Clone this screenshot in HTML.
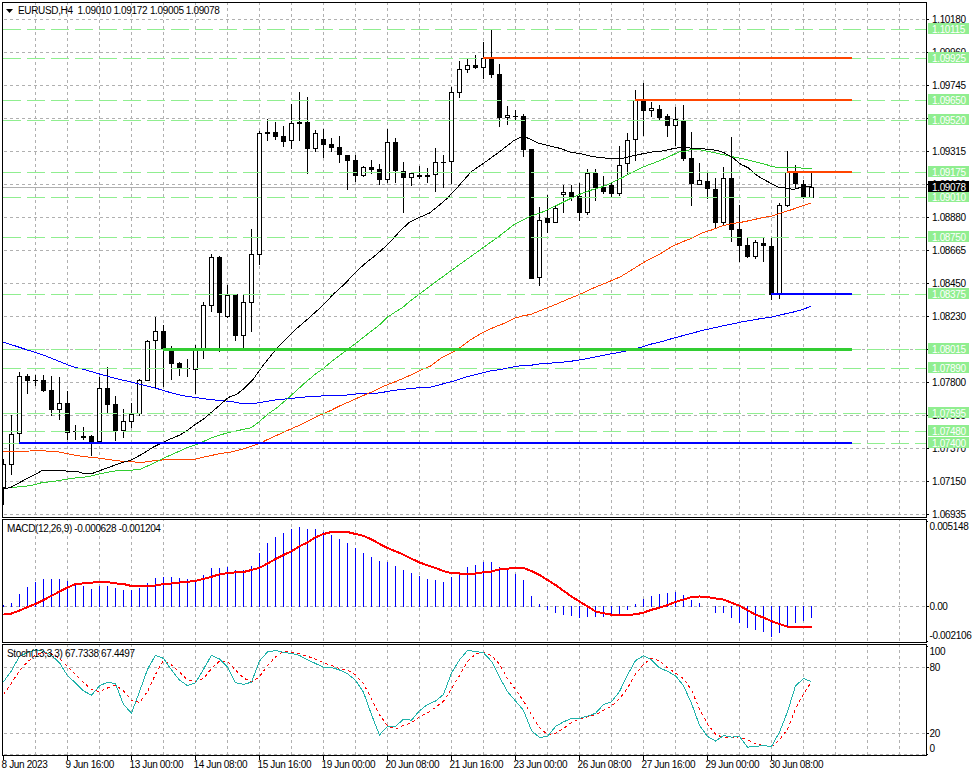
<!DOCTYPE html>
<html><head><meta charset="utf-8"><title>EURUSD,H4</title>
<style>
html,body{margin:0;padding:0;background:#fff;width:972px;height:776px;overflow:hidden}
svg{display:block}
text{font-family:"Liberation Sans", sans-serif}
</style></head>
<body>
<svg width="972" height="776" viewBox="0 0 972 776">
<rect width="972" height="776" fill="#fff"/>
<g shape-rendering="crispEdges">
<line x1="35.5" y1="3" x2="35.5" y2="517" stroke="#B0B0B0" stroke-width="1" stroke-dasharray="3 3" stroke-dashoffset="1"/>
<line x1="67.5" y1="3" x2="67.5" y2="517" stroke="#B0B0B0" stroke-width="1" stroke-dasharray="3 3" stroke-dashoffset="1"/>
<line x1="99.5" y1="3" x2="99.5" y2="517" stroke="#B0B0B0" stroke-width="1" stroke-dasharray="3 3" stroke-dashoffset="1"/>
<line x1="131.5" y1="3" x2="131.5" y2="517" stroke="#B0B0B0" stroke-width="1" stroke-dasharray="3 3" stroke-dashoffset="1"/>
<line x1="163.5" y1="3" x2="163.5" y2="517" stroke="#B0B0B0" stroke-width="1" stroke-dasharray="3 3" stroke-dashoffset="1"/>
<line x1="195.5" y1="3" x2="195.5" y2="517" stroke="#B0B0B0" stroke-width="1" stroke-dasharray="3 3" stroke-dashoffset="1"/>
<line x1="227.5" y1="3" x2="227.5" y2="517" stroke="#B0B0B0" stroke-width="1" stroke-dasharray="3 3" stroke-dashoffset="1"/>
<line x1="259.5" y1="3" x2="259.5" y2="517" stroke="#B0B0B0" stroke-width="1" stroke-dasharray="3 3" stroke-dashoffset="1"/>
<line x1="291.5" y1="3" x2="291.5" y2="517" stroke="#B0B0B0" stroke-width="1" stroke-dasharray="3 3" stroke-dashoffset="1"/>
<line x1="323.5" y1="3" x2="323.5" y2="517" stroke="#B0B0B0" stroke-width="1" stroke-dasharray="3 3" stroke-dashoffset="1"/>
<line x1="355.5" y1="3" x2="355.5" y2="517" stroke="#B0B0B0" stroke-width="1" stroke-dasharray="3 3" stroke-dashoffset="1"/>
<line x1="387.5" y1="3" x2="387.5" y2="517" stroke="#B0B0B0" stroke-width="1" stroke-dasharray="3 3" stroke-dashoffset="1"/>
<line x1="419.5" y1="3" x2="419.5" y2="517" stroke="#B0B0B0" stroke-width="1" stroke-dasharray="3 3" stroke-dashoffset="1"/>
<line x1="451.5" y1="3" x2="451.5" y2="517" stroke="#B0B0B0" stroke-width="1" stroke-dasharray="3 3" stroke-dashoffset="1"/>
<line x1="483.5" y1="3" x2="483.5" y2="517" stroke="#B0B0B0" stroke-width="1" stroke-dasharray="3 3" stroke-dashoffset="1"/>
<line x1="515.5" y1="3" x2="515.5" y2="517" stroke="#B0B0B0" stroke-width="1" stroke-dasharray="3 3" stroke-dashoffset="1"/>
<line x1="547.5" y1="3" x2="547.5" y2="517" stroke="#B0B0B0" stroke-width="1" stroke-dasharray="3 3" stroke-dashoffset="1"/>
<line x1="579.5" y1="3" x2="579.5" y2="517" stroke="#B0B0B0" stroke-width="1" stroke-dasharray="3 3" stroke-dashoffset="1"/>
<line x1="611.5" y1="3" x2="611.5" y2="517" stroke="#B0B0B0" stroke-width="1" stroke-dasharray="3 3" stroke-dashoffset="1"/>
<line x1="643.5" y1="3" x2="643.5" y2="517" stroke="#B0B0B0" stroke-width="1" stroke-dasharray="3 3" stroke-dashoffset="1"/>
<line x1="675.5" y1="3" x2="675.5" y2="517" stroke="#B0B0B0" stroke-width="1" stroke-dasharray="3 3" stroke-dashoffset="1"/>
<line x1="707.5" y1="3" x2="707.5" y2="517" stroke="#B0B0B0" stroke-width="1" stroke-dasharray="3 3" stroke-dashoffset="1"/>
<line x1="739.5" y1="3" x2="739.5" y2="517" stroke="#B0B0B0" stroke-width="1" stroke-dasharray="3 3" stroke-dashoffset="1"/>
<line x1="771.5" y1="3" x2="771.5" y2="517" stroke="#B0B0B0" stroke-width="1" stroke-dasharray="3 3" stroke-dashoffset="1"/>
<line x1="803.5" y1="3" x2="803.5" y2="517" stroke="#B0B0B0" stroke-width="1" stroke-dasharray="3 3" stroke-dashoffset="1"/>
<line x1="835.5" y1="3" x2="835.5" y2="517" stroke="#B0B0B0" stroke-width="1" stroke-dasharray="3 3" stroke-dashoffset="1"/>
<line x1="867.5" y1="3" x2="867.5" y2="517" stroke="#B0B0B0" stroke-width="1" stroke-dasharray="3 3" stroke-dashoffset="1"/>
<line x1="899.5" y1="3" x2="899.5" y2="517" stroke="#B0B0B0" stroke-width="1" stroke-dasharray="3 3" stroke-dashoffset="1"/>
<line x1="35.5" y1="520" x2="35.5" y2="642" stroke="#B0B0B0" stroke-width="1" stroke-dasharray="3 3" stroke-dashoffset="2"/>
<line x1="67.5" y1="520" x2="67.5" y2="642" stroke="#B0B0B0" stroke-width="1" stroke-dasharray="3 3" stroke-dashoffset="2"/>
<line x1="99.5" y1="520" x2="99.5" y2="642" stroke="#B0B0B0" stroke-width="1" stroke-dasharray="3 3" stroke-dashoffset="2"/>
<line x1="131.5" y1="520" x2="131.5" y2="642" stroke="#B0B0B0" stroke-width="1" stroke-dasharray="3 3" stroke-dashoffset="2"/>
<line x1="163.5" y1="520" x2="163.5" y2="642" stroke="#B0B0B0" stroke-width="1" stroke-dasharray="3 3" stroke-dashoffset="2"/>
<line x1="195.5" y1="520" x2="195.5" y2="642" stroke="#B0B0B0" stroke-width="1" stroke-dasharray="3 3" stroke-dashoffset="2"/>
<line x1="227.5" y1="520" x2="227.5" y2="642" stroke="#B0B0B0" stroke-width="1" stroke-dasharray="3 3" stroke-dashoffset="2"/>
<line x1="259.5" y1="520" x2="259.5" y2="642" stroke="#B0B0B0" stroke-width="1" stroke-dasharray="3 3" stroke-dashoffset="2"/>
<line x1="291.5" y1="520" x2="291.5" y2="642" stroke="#B0B0B0" stroke-width="1" stroke-dasharray="3 3" stroke-dashoffset="2"/>
<line x1="323.5" y1="520" x2="323.5" y2="642" stroke="#B0B0B0" stroke-width="1" stroke-dasharray="3 3" stroke-dashoffset="2"/>
<line x1="355.5" y1="520" x2="355.5" y2="642" stroke="#B0B0B0" stroke-width="1" stroke-dasharray="3 3" stroke-dashoffset="2"/>
<line x1="387.5" y1="520" x2="387.5" y2="642" stroke="#B0B0B0" stroke-width="1" stroke-dasharray="3 3" stroke-dashoffset="2"/>
<line x1="419.5" y1="520" x2="419.5" y2="642" stroke="#B0B0B0" stroke-width="1" stroke-dasharray="3 3" stroke-dashoffset="2"/>
<line x1="451.5" y1="520" x2="451.5" y2="642" stroke="#B0B0B0" stroke-width="1" stroke-dasharray="3 3" stroke-dashoffset="2"/>
<line x1="483.5" y1="520" x2="483.5" y2="642" stroke="#B0B0B0" stroke-width="1" stroke-dasharray="3 3" stroke-dashoffset="2"/>
<line x1="515.5" y1="520" x2="515.5" y2="642" stroke="#B0B0B0" stroke-width="1" stroke-dasharray="3 3" stroke-dashoffset="2"/>
<line x1="547.5" y1="520" x2="547.5" y2="642" stroke="#B0B0B0" stroke-width="1" stroke-dasharray="3 3" stroke-dashoffset="2"/>
<line x1="579.5" y1="520" x2="579.5" y2="642" stroke="#B0B0B0" stroke-width="1" stroke-dasharray="3 3" stroke-dashoffset="2"/>
<line x1="611.5" y1="520" x2="611.5" y2="642" stroke="#B0B0B0" stroke-width="1" stroke-dasharray="3 3" stroke-dashoffset="2"/>
<line x1="643.5" y1="520" x2="643.5" y2="642" stroke="#B0B0B0" stroke-width="1" stroke-dasharray="3 3" stroke-dashoffset="2"/>
<line x1="675.5" y1="520" x2="675.5" y2="642" stroke="#B0B0B0" stroke-width="1" stroke-dasharray="3 3" stroke-dashoffset="2"/>
<line x1="707.5" y1="520" x2="707.5" y2="642" stroke="#B0B0B0" stroke-width="1" stroke-dasharray="3 3" stroke-dashoffset="2"/>
<line x1="739.5" y1="520" x2="739.5" y2="642" stroke="#B0B0B0" stroke-width="1" stroke-dasharray="3 3" stroke-dashoffset="2"/>
<line x1="771.5" y1="520" x2="771.5" y2="642" stroke="#B0B0B0" stroke-width="1" stroke-dasharray="3 3" stroke-dashoffset="2"/>
<line x1="803.5" y1="520" x2="803.5" y2="642" stroke="#B0B0B0" stroke-width="1" stroke-dasharray="3 3" stroke-dashoffset="2"/>
<line x1="835.5" y1="520" x2="835.5" y2="642" stroke="#B0B0B0" stroke-width="1" stroke-dasharray="3 3" stroke-dashoffset="2"/>
<line x1="867.5" y1="520" x2="867.5" y2="642" stroke="#B0B0B0" stroke-width="1" stroke-dasharray="3 3" stroke-dashoffset="2"/>
<line x1="899.5" y1="520" x2="899.5" y2="642" stroke="#B0B0B0" stroke-width="1" stroke-dasharray="3 3" stroke-dashoffset="2"/>
<line x1="35.5" y1="645" x2="35.5" y2="755" stroke="#B0B0B0" stroke-width="1" stroke-dasharray="3 3" stroke-dashoffset="1"/>
<line x1="67.5" y1="645" x2="67.5" y2="755" stroke="#B0B0B0" stroke-width="1" stroke-dasharray="3 3" stroke-dashoffset="1"/>
<line x1="99.5" y1="645" x2="99.5" y2="755" stroke="#B0B0B0" stroke-width="1" stroke-dasharray="3 3" stroke-dashoffset="1"/>
<line x1="131.5" y1="645" x2="131.5" y2="755" stroke="#B0B0B0" stroke-width="1" stroke-dasharray="3 3" stroke-dashoffset="1"/>
<line x1="163.5" y1="645" x2="163.5" y2="755" stroke="#B0B0B0" stroke-width="1" stroke-dasharray="3 3" stroke-dashoffset="1"/>
<line x1="195.5" y1="645" x2="195.5" y2="755" stroke="#B0B0B0" stroke-width="1" stroke-dasharray="3 3" stroke-dashoffset="1"/>
<line x1="227.5" y1="645" x2="227.5" y2="755" stroke="#B0B0B0" stroke-width="1" stroke-dasharray="3 3" stroke-dashoffset="1"/>
<line x1="259.5" y1="645" x2="259.5" y2="755" stroke="#B0B0B0" stroke-width="1" stroke-dasharray="3 3" stroke-dashoffset="1"/>
<line x1="291.5" y1="645" x2="291.5" y2="755" stroke="#B0B0B0" stroke-width="1" stroke-dasharray="3 3" stroke-dashoffset="1"/>
<line x1="323.5" y1="645" x2="323.5" y2="755" stroke="#B0B0B0" stroke-width="1" stroke-dasharray="3 3" stroke-dashoffset="1"/>
<line x1="355.5" y1="645" x2="355.5" y2="755" stroke="#B0B0B0" stroke-width="1" stroke-dasharray="3 3" stroke-dashoffset="1"/>
<line x1="387.5" y1="645" x2="387.5" y2="755" stroke="#B0B0B0" stroke-width="1" stroke-dasharray="3 3" stroke-dashoffset="1"/>
<line x1="419.5" y1="645" x2="419.5" y2="755" stroke="#B0B0B0" stroke-width="1" stroke-dasharray="3 3" stroke-dashoffset="1"/>
<line x1="451.5" y1="645" x2="451.5" y2="755" stroke="#B0B0B0" stroke-width="1" stroke-dasharray="3 3" stroke-dashoffset="1"/>
<line x1="483.5" y1="645" x2="483.5" y2="755" stroke="#B0B0B0" stroke-width="1" stroke-dasharray="3 3" stroke-dashoffset="1"/>
<line x1="515.5" y1="645" x2="515.5" y2="755" stroke="#B0B0B0" stroke-width="1" stroke-dasharray="3 3" stroke-dashoffset="1"/>
<line x1="547.5" y1="645" x2="547.5" y2="755" stroke="#B0B0B0" stroke-width="1" stroke-dasharray="3 3" stroke-dashoffset="1"/>
<line x1="579.5" y1="645" x2="579.5" y2="755" stroke="#B0B0B0" stroke-width="1" stroke-dasharray="3 3" stroke-dashoffset="1"/>
<line x1="611.5" y1="645" x2="611.5" y2="755" stroke="#B0B0B0" stroke-width="1" stroke-dasharray="3 3" stroke-dashoffset="1"/>
<line x1="643.5" y1="645" x2="643.5" y2="755" stroke="#B0B0B0" stroke-width="1" stroke-dasharray="3 3" stroke-dashoffset="1"/>
<line x1="675.5" y1="645" x2="675.5" y2="755" stroke="#B0B0B0" stroke-width="1" stroke-dasharray="3 3" stroke-dashoffset="1"/>
<line x1="707.5" y1="645" x2="707.5" y2="755" stroke="#B0B0B0" stroke-width="1" stroke-dasharray="3 3" stroke-dashoffset="1"/>
<line x1="739.5" y1="645" x2="739.5" y2="755" stroke="#B0B0B0" stroke-width="1" stroke-dasharray="3 3" stroke-dashoffset="1"/>
<line x1="771.5" y1="645" x2="771.5" y2="755" stroke="#B0B0B0" stroke-width="1" stroke-dasharray="3 3" stroke-dashoffset="1"/>
<line x1="803.5" y1="645" x2="803.5" y2="755" stroke="#B0B0B0" stroke-width="1" stroke-dasharray="3 3" stroke-dashoffset="1"/>
<line x1="835.5" y1="645" x2="835.5" y2="755" stroke="#B0B0B0" stroke-width="1" stroke-dasharray="3 3" stroke-dashoffset="1"/>
<line x1="867.5" y1="645" x2="867.5" y2="755" stroke="#B0B0B0" stroke-width="1" stroke-dasharray="3 3" stroke-dashoffset="1"/>
<line x1="899.5" y1="645" x2="899.5" y2="755" stroke="#B0B0B0" stroke-width="1" stroke-dasharray="3 3" stroke-dashoffset="1"/>
<line x1="3" y1="19.5" x2="926" y2="19.5" stroke="#B0B0B0" stroke-width="1" stroke-dasharray="3 3" stroke-dashoffset="5"/>
<line x1="3" y1="52.5" x2="926" y2="52.5" stroke="#B0B0B0" stroke-width="1" stroke-dasharray="3 3" stroke-dashoffset="5"/>
<line x1="3" y1="85.5" x2="926" y2="85.5" stroke="#B0B0B0" stroke-width="1" stroke-dasharray="3 3" stroke-dashoffset="5"/>
<line x1="3" y1="118.5" x2="926" y2="118.5" stroke="#B0B0B0" stroke-width="1" stroke-dasharray="3 3" stroke-dashoffset="5"/>
<line x1="3" y1="151.5" x2="926" y2="151.5" stroke="#B0B0B0" stroke-width="1" stroke-dasharray="3 3" stroke-dashoffset="5"/>
<line x1="3" y1="184.5" x2="926" y2="184.5" stroke="#B0B0B0" stroke-width="1" stroke-dasharray="3 3" stroke-dashoffset="5"/>
<line x1="3" y1="217.5" x2="926" y2="217.5" stroke="#B0B0B0" stroke-width="1" stroke-dasharray="3 3" stroke-dashoffset="5"/>
<line x1="3" y1="250.5" x2="926" y2="250.5" stroke="#B0B0B0" stroke-width="1" stroke-dasharray="3 3" stroke-dashoffset="5"/>
<line x1="3" y1="283.5" x2="926" y2="283.5" stroke="#B0B0B0" stroke-width="1" stroke-dasharray="3 3" stroke-dashoffset="5"/>
<line x1="3" y1="316.5" x2="926" y2="316.5" stroke="#B0B0B0" stroke-width="1" stroke-dasharray="3 3" stroke-dashoffset="5"/>
<line x1="3" y1="349.5" x2="926" y2="349.5" stroke="#B0B0B0" stroke-width="1" stroke-dasharray="3 3" stroke-dashoffset="5"/>
<line x1="3" y1="382.5" x2="926" y2="382.5" stroke="#B0B0B0" stroke-width="1" stroke-dasharray="3 3" stroke-dashoffset="5"/>
<line x1="3" y1="415.5" x2="926" y2="415.5" stroke="#B0B0B0" stroke-width="1" stroke-dasharray="3 3" stroke-dashoffset="5"/>
<line x1="3" y1="448.5" x2="926" y2="448.5" stroke="#B0B0B0" stroke-width="1" stroke-dasharray="3 3" stroke-dashoffset="5"/>
<line x1="3" y1="481.5" x2="926" y2="481.5" stroke="#B0B0B0" stroke-width="1" stroke-dasharray="3 3" stroke-dashoffset="5"/>
<line x1="3" y1="514.5" x2="926" y2="514.5" stroke="#B0B0B0" stroke-width="1" stroke-dasharray="3 3" stroke-dashoffset="5"/>
<line x1="3" y1="606.5" x2="926" y2="606.5" stroke="#B0B0B0" stroke-width="1" stroke-dasharray="3 3" stroke-dashoffset="5"/>
<line x1="3" y1="667.5" x2="926" y2="667.5" stroke="#B0B0B0" stroke-width="1" stroke-dasharray="3 3" stroke-dashoffset="5"/>
<line x1="3" y1="733.5" x2="926" y2="733.5" stroke="#B0B0B0" stroke-width="1" stroke-dasharray="3 3" stroke-dashoffset="5"/>
<line x1="3" y1="754.5" x2="926" y2="754.5" stroke="#B0B0B0" stroke-width="1" stroke-dasharray="3 3" stroke-dashoffset="5"/>
<line x1="3" y1="187.5" x2="926" y2="187.5" stroke="#B0B0B0" stroke-width="1"/>
</g>
<g shape-rendering="crispEdges">
<rect x="3" y="459" width="1" height="46" fill="#000"/>
<rect x="1" y="464" width="5" height="24" fill="#000"/>
<rect x="2" y="465" width="3" height="22" fill="#fff"/>
<rect x="11" y="415" width="1" height="60" fill="#000"/>
<rect x="9" y="434" width="5" height="31" fill="#000"/>
<rect x="10" y="435" width="3" height="29" fill="#fff"/>
<rect x="19" y="372" width="1" height="70" fill="#000"/>
<rect x="17" y="376" width="5" height="58" fill="#000"/>
<rect x="18" y="377" width="3" height="56" fill="#fff"/>
<rect x="27" y="374" width="1" height="20" fill="#000"/>
<rect x="25" y="376" width="5" height="5" fill="#000"/>
<rect x="35" y="375" width="1" height="11" fill="#000"/>
<rect x="33" y="380" width="5" height="1" fill="#000"/>
<rect x="43" y="375" width="1" height="17" fill="#000"/>
<rect x="41" y="380" width="5" height="11" fill="#000"/>
<rect x="51" y="376" width="1" height="40" fill="#000"/>
<rect x="49" y="390" width="5" height="20" fill="#000"/>
<rect x="59" y="377" width="1" height="43" fill="#000"/>
<rect x="57" y="403" width="5" height="7" fill="#000"/>
<rect x="58" y="404" width="3" height="5" fill="#fff"/>
<rect x="67" y="391" width="1" height="49" fill="#000"/>
<rect x="65" y="403" width="5" height="30" fill="#000"/>
<rect x="75" y="425" width="1" height="15" fill="#000"/>
<rect x="73" y="431" width="5" height="1" fill="#000"/>
<rect x="83" y="427" width="1" height="13" fill="#000"/>
<rect x="81" y="436" width="5" height="2" fill="#000"/>
<rect x="91" y="435" width="1" height="21" fill="#000"/>
<rect x="89" y="436" width="5" height="6" fill="#000"/>
<rect x="99" y="377" width="1" height="66" fill="#000"/>
<rect x="97" y="388" width="5" height="54" fill="#000"/>
<rect x="98" y="389" width="3" height="52" fill="#fff"/>
<rect x="107" y="367" width="1" height="46" fill="#000"/>
<rect x="105" y="388" width="5" height="17" fill="#000"/>
<rect x="115" y="396" width="1" height="45" fill="#000"/>
<rect x="113" y="404" width="5" height="27" fill="#000"/>
<rect x="123" y="409" width="1" height="29" fill="#000"/>
<rect x="121" y="421" width="5" height="10" fill="#000"/>
<rect x="122" y="422" width="3" height="8" fill="#fff"/>
<rect x="131" y="403" width="1" height="25" fill="#000"/>
<rect x="129" y="414" width="5" height="8" fill="#000"/>
<rect x="130" y="415" width="3" height="6" fill="#fff"/>
<rect x="139" y="379" width="1" height="37" fill="#000"/>
<rect x="137" y="380" width="5" height="34" fill="#000"/>
<rect x="138" y="381" width="3" height="32" fill="#fff"/>
<rect x="147" y="340" width="1" height="41" fill="#000"/>
<rect x="145" y="341" width="5" height="40" fill="#000"/>
<rect x="146" y="342" width="3" height="38" fill="#fff"/>
<rect x="155" y="317" width="1" height="71" fill="#000"/>
<rect x="153" y="331" width="5" height="10" fill="#000"/>
<rect x="154" y="332" width="3" height="8" fill="#fff"/>
<rect x="163" y="325" width="1" height="62" fill="#000"/>
<rect x="161" y="331" width="5" height="18" fill="#000"/>
<rect x="171" y="346" width="1" height="34" fill="#000"/>
<rect x="169" y="351" width="5" height="13" fill="#000"/>
<rect x="179" y="362" width="1" height="14" fill="#000"/>
<rect x="177" y="363" width="5" height="5" fill="#000"/>
<rect x="187" y="359" width="1" height="18" fill="#000"/>
<rect x="185" y="368" width="5" height="1" fill="#000"/>
<rect x="195" y="345" width="1" height="49" fill="#000"/>
<rect x="193" y="349" width="5" height="21" fill="#000"/>
<rect x="194" y="350" width="3" height="19" fill="#fff"/>
<rect x="203" y="302" width="1" height="57" fill="#000"/>
<rect x="201" y="305" width="5" height="44" fill="#000"/>
<rect x="202" y="306" width="3" height="42" fill="#fff"/>
<rect x="211" y="254" width="1" height="58" fill="#000"/>
<rect x="209" y="257" width="5" height="49" fill="#000"/>
<rect x="210" y="258" width="3" height="47" fill="#fff"/>
<rect x="219" y="256" width="1" height="96" fill="#000"/>
<rect x="217" y="257" width="5" height="56" fill="#000"/>
<rect x="227" y="285" width="1" height="33" fill="#000"/>
<rect x="225" y="295" width="5" height="22" fill="#000"/>
<rect x="226" y="296" width="3" height="20" fill="#fff"/>
<rect x="235" y="294" width="1" height="47" fill="#000"/>
<rect x="233" y="294" width="5" height="42" fill="#000"/>
<rect x="243" y="295" width="1" height="53" fill="#000"/>
<rect x="241" y="302" width="5" height="34" fill="#000"/>
<rect x="242" y="303" width="3" height="32" fill="#fff"/>
<rect x="251" y="229" width="1" height="103" fill="#000"/>
<rect x="249" y="254" width="5" height="49" fill="#000"/>
<rect x="250" y="255" width="3" height="47" fill="#fff"/>
<rect x="259" y="131" width="1" height="134" fill="#000"/>
<rect x="257" y="133" width="5" height="122" fill="#000"/>
<rect x="258" y="134" width="3" height="120" fill="#fff"/>
<rect x="267" y="119" width="1" height="22" fill="#000"/>
<rect x="265" y="132" width="5" height="2" fill="#000"/>
<rect x="275" y="122" width="1" height="18" fill="#000"/>
<rect x="273" y="132" width="5" height="5" fill="#000"/>
<rect x="283" y="126" width="1" height="21" fill="#000"/>
<rect x="281" y="136" width="5" height="6" fill="#000"/>
<rect x="291" y="104" width="1" height="45" fill="#000"/>
<rect x="289" y="123" width="5" height="18" fill="#000"/>
<rect x="290" y="124" width="3" height="16" fill="#fff"/>
<rect x="299" y="92" width="1" height="49" fill="#000"/>
<rect x="297" y="122" width="5" height="2" fill="#000"/>
<rect x="307" y="97" width="1" height="77" fill="#000"/>
<rect x="305" y="122" width="5" height="27" fill="#000"/>
<rect x="315" y="130" width="1" height="22" fill="#000"/>
<rect x="313" y="133" width="5" height="16" fill="#000"/>
<rect x="314" y="134" width="3" height="14" fill="#fff"/>
<rect x="323" y="129" width="1" height="29" fill="#000"/>
<rect x="321" y="139" width="5" height="6" fill="#000"/>
<rect x="331" y="138" width="1" height="14" fill="#000"/>
<rect x="329" y="144" width="5" height="4" fill="#000"/>
<rect x="339" y="136" width="1" height="27" fill="#000"/>
<rect x="337" y="147" width="5" height="8" fill="#000"/>
<rect x="347" y="155" width="1" height="35" fill="#000"/>
<rect x="345" y="155" width="5" height="6" fill="#000"/>
<rect x="355" y="155" width="1" height="27" fill="#000"/>
<rect x="353" y="160" width="5" height="16" fill="#000"/>
<rect x="363" y="166" width="1" height="11" fill="#000"/>
<rect x="361" y="167" width="5" height="9" fill="#000"/>
<rect x="362" y="168" width="3" height="7" fill="#fff"/>
<rect x="371" y="160" width="1" height="14" fill="#000"/>
<rect x="369" y="167" width="5" height="3" fill="#000"/>
<rect x="379" y="164" width="1" height="21" fill="#000"/>
<rect x="377" y="169" width="5" height="11" fill="#000"/>
<rect x="387" y="129" width="1" height="54" fill="#000"/>
<rect x="385" y="142" width="5" height="38" fill="#000"/>
<rect x="386" y="143" width="3" height="36" fill="#fff"/>
<rect x="395" y="138" width="1" height="45" fill="#000"/>
<rect x="393" y="142" width="5" height="29" fill="#000"/>
<rect x="403" y="162" width="1" height="51" fill="#000"/>
<rect x="401" y="171" width="5" height="7" fill="#000"/>
<rect x="411" y="173" width="1" height="13" fill="#000"/>
<rect x="409" y="173" width="5" height="5" fill="#000"/>
<rect x="410" y="174" width="3" height="3" fill="#fff"/>
<rect x="419" y="166" width="1" height="13" fill="#000"/>
<rect x="417" y="175" width="5" height="2" fill="#000"/>
<rect x="427" y="168" width="1" height="15" fill="#000"/>
<rect x="425" y="175" width="5" height="2" fill="#000"/>
<rect x="435" y="148" width="1" height="44" fill="#000"/>
<rect x="433" y="162" width="5" height="13" fill="#000"/>
<rect x="434" y="163" width="3" height="11" fill="#fff"/>
<rect x="443" y="155" width="1" height="33" fill="#000"/>
<rect x="441" y="162" width="5" height="1" fill="#000"/>
<rect x="451" y="87" width="1" height="97" fill="#000"/>
<rect x="449" y="92" width="5" height="70" fill="#000"/>
<rect x="450" y="93" width="3" height="68" fill="#fff"/>
<rect x="459" y="61" width="1" height="37" fill="#000"/>
<rect x="457" y="69" width="5" height="24" fill="#000"/>
<rect x="458" y="70" width="3" height="22" fill="#fff"/>
<rect x="467" y="59" width="1" height="14" fill="#000"/>
<rect x="465" y="65" width="5" height="5" fill="#000"/>
<rect x="466" y="66" width="3" height="3" fill="#fff"/>
<rect x="475" y="55" width="1" height="14" fill="#000"/>
<rect x="473" y="65" width="5" height="3" fill="#000"/>
<rect x="483" y="42" width="1" height="37" fill="#000"/>
<rect x="481" y="58" width="5" height="10" fill="#000"/>
<rect x="482" y="59" width="3" height="8" fill="#fff"/>
<rect x="491" y="30" width="1" height="48" fill="#000"/>
<rect x="489" y="59" width="5" height="16" fill="#000"/>
<rect x="499" y="64" width="1" height="63" fill="#000"/>
<rect x="497" y="74" width="5" height="44" fill="#000"/>
<rect x="507" y="106" width="1" height="19" fill="#000"/>
<rect x="505" y="115" width="5" height="3" fill="#000"/>
<rect x="506" y="116" width="3" height="1" fill="#fff"/>
<rect x="515" y="110" width="1" height="10" fill="#000"/>
<rect x="513" y="116" width="5" height="1" fill="#000"/>
<rect x="523" y="114" width="1" height="43" fill="#000"/>
<rect x="521" y="116" width="5" height="34" fill="#000"/>
<rect x="531" y="149" width="1" height="130" fill="#000"/>
<rect x="529" y="149" width="5" height="130" fill="#000"/>
<rect x="539" y="207" width="1" height="79" fill="#000"/>
<rect x="537" y="220" width="5" height="58" fill="#000"/>
<rect x="538" y="221" width="3" height="56" fill="#fff"/>
<rect x="547" y="195" width="1" height="38" fill="#000"/>
<rect x="545" y="218" width="5" height="5" fill="#000"/>
<rect x="555" y="206" width="1" height="17" fill="#000"/>
<rect x="553" y="208" width="5" height="15" fill="#000"/>
<rect x="554" y="209" width="3" height="13" fill="#fff"/>
<rect x="563" y="185" width="1" height="28" fill="#000"/>
<rect x="561" y="192" width="5" height="3" fill="#000"/>
<rect x="562" y="193" width="3" height="1" fill="#fff"/>
<rect x="571" y="185" width="1" height="16" fill="#000"/>
<rect x="569" y="192" width="5" height="5" fill="#000"/>
<rect x="579" y="183" width="1" height="38" fill="#000"/>
<rect x="577" y="196" width="5" height="17" fill="#000"/>
<rect x="587" y="169" width="1" height="46" fill="#000"/>
<rect x="585" y="173" width="5" height="40" fill="#000"/>
<rect x="586" y="174" width="3" height="38" fill="#fff"/>
<rect x="595" y="169" width="1" height="32" fill="#000"/>
<rect x="593" y="173" width="5" height="15" fill="#000"/>
<rect x="603" y="176" width="1" height="18" fill="#000"/>
<rect x="601" y="187" width="5" height="5" fill="#000"/>
<rect x="611" y="183" width="1" height="14" fill="#000"/>
<rect x="609" y="185" width="5" height="9" fill="#000"/>
<rect x="619" y="146" width="1" height="50" fill="#000"/>
<rect x="617" y="165" width="5" height="29" fill="#000"/>
<rect x="618" y="166" width="3" height="27" fill="#fff"/>
<rect x="627" y="133" width="1" height="42" fill="#000"/>
<rect x="625" y="140" width="5" height="24" fill="#000"/>
<rect x="626" y="141" width="3" height="22" fill="#fff"/>
<rect x="635" y="90" width="1" height="71" fill="#000"/>
<rect x="633" y="100" width="5" height="40" fill="#000"/>
<rect x="634" y="101" width="3" height="38" fill="#fff"/>
<rect x="643" y="83" width="1" height="53" fill="#000"/>
<rect x="641" y="101" width="5" height="10" fill="#000"/>
<rect x="651" y="102" width="1" height="15" fill="#000"/>
<rect x="649" y="108" width="5" height="3" fill="#000"/>
<rect x="650" y="109" width="3" height="1" fill="#fff"/>
<rect x="659" y="105" width="1" height="15" fill="#000"/>
<rect x="657" y="109" width="5" height="9" fill="#000"/>
<rect x="667" y="114" width="1" height="23" fill="#000"/>
<rect x="665" y="116" width="5" height="10" fill="#000"/>
<rect x="675" y="107" width="1" height="39" fill="#000"/>
<rect x="673" y="119" width="5" height="7" fill="#000"/>
<rect x="674" y="120" width="3" height="5" fill="#fff"/>
<rect x="683" y="105" width="1" height="56" fill="#000"/>
<rect x="681" y="121" width="5" height="38" fill="#000"/>
<rect x="691" y="132" width="1" height="74" fill="#000"/>
<rect x="689" y="158" width="5" height="26" fill="#000"/>
<rect x="699" y="163" width="1" height="22" fill="#000"/>
<rect x="697" y="180" width="5" height="5" fill="#000"/>
<rect x="698" y="181" width="3" height="3" fill="#fff"/>
<rect x="707" y="173" width="1" height="26" fill="#000"/>
<rect x="705" y="181" width="5" height="8" fill="#000"/>
<rect x="715" y="178" width="1" height="51" fill="#000"/>
<rect x="713" y="189" width="5" height="34" fill="#000"/>
<rect x="723" y="167" width="1" height="58" fill="#000"/>
<rect x="721" y="178" width="5" height="45" fill="#000"/>
<rect x="722" y="179" width="3" height="43" fill="#fff"/>
<rect x="731" y="137" width="1" height="105" fill="#000"/>
<rect x="729" y="178" width="5" height="52" fill="#000"/>
<rect x="739" y="205" width="1" height="57" fill="#000"/>
<rect x="737" y="229" width="5" height="17" fill="#000"/>
<rect x="747" y="238" width="1" height="20" fill="#000"/>
<rect x="745" y="245" width="5" height="12" fill="#000"/>
<rect x="755" y="240" width="1" height="19" fill="#000"/>
<rect x="753" y="242" width="5" height="15" fill="#000"/>
<rect x="754" y="243" width="3" height="13" fill="#fff"/>
<rect x="763" y="238" width="1" height="24" fill="#000"/>
<rect x="761" y="243" width="5" height="3" fill="#000"/>
<rect x="771" y="238" width="1" height="62" fill="#000"/>
<rect x="769" y="246" width="5" height="49" fill="#000"/>
<rect x="779" y="203" width="1" height="96" fill="#000"/>
<rect x="777" y="205" width="5" height="89" fill="#000"/>
<rect x="778" y="206" width="3" height="87" fill="#fff"/>
<rect x="787" y="151" width="1" height="56" fill="#000"/>
<rect x="785" y="172" width="5" height="34" fill="#000"/>
<rect x="786" y="173" width="3" height="32" fill="#fff"/>
<rect x="795" y="165" width="1" height="24" fill="#000"/>
<rect x="793" y="172" width="5" height="12" fill="#000"/>
<rect x="803" y="180" width="1" height="19" fill="#000"/>
<rect x="801" y="184" width="5" height="14" fill="#000"/>
<rect x="811" y="173" width="1" height="25" fill="#000"/>
<rect x="809" y="187" width="5" height="11" fill="#000"/>
<rect x="810" y="188" width="3" height="9" fill="#fff"/>
</g>
<g shape-rendering="crispEdges" stroke-linejoin="miter">
<polyline points="3.5,342.2 14.9,345.8 29.3,350.6 43.7,355.2 58.1,360.9 72.5,366.7 87.0,370.3 101.5,374.6 115.8,378.5 130.5,381.9 143.5,385.2 156.5,388.4 169.2,392.2 182.0,395.5 194.9,397.4 207.8,399.3 220.7,400.6 230.5,401.4 241.5,403.5 254.5,403.5 273.1,400.2 287.2,398.8 308.5,396.7 330.5,395.5 342.9,395.5 359.5,393.6 374.8,393.4 384.1,392.1 392.5,390.5 402.5,389.5 413.0,388.2 423.5,387.6 430.5,387.2 442.1,384.1 453.5,381.2 465.3,377.1 476.9,374.2 488.5,371.3 500.1,369.6 511.5,367.3 522.1,365.5 530.5,365.3 543.5,363.4 556.5,362.8 569.2,361.5 582.0,359.6 594.9,357.0 607.8,354.4 620.5,352.2 625.1,351.1 640.0,347.5 651.5,344.0 661.5,341.7 671.9,338.6 682.2,335.8 692.5,333.1 702.8,330.3 713.1,328.0 720.5,326.4 730.8,324.3 741.1,322.0 751.5,320.2 761.5,318.5 771.9,317.1 782.2,314.5 792.5,312.3 802.8,309.4 811.0,306.3" fill="none" stroke="#0000FF" stroke-width="1"/>
<polyline points="3.5,451.4 30.5,451.0 36.5,450.3 45.5,451.0 56.5,451.6 66.5,453.5 76.5,455.5 87.5,457.0 97.5,458.0 107.5,459.3 117.5,460.9 130.5,461.4 138.5,462.5 143.5,462.2 152.5,460.9 169.5,459.3 194.5,459.3 207.5,456.3 220.5,453.5 230.5,452.2 240.5,449.7 250.5,446.5 260.5,443.2 266.5,440.0 284.5,431.8 301.5,424.3 321.5,414.4 330.5,410.6 340.5,405.5 351.5,400.8 361.5,396.2 371.5,392.1 382.0,386.9 392.5,382.8 402.5,378.7 413.0,374.0 423.5,368.9 430.5,366.0 442.1,357.4 453.5,351.6 460.5,347.3 471.1,339.4 483.9,331.9 495.5,326.7 504.5,323.2 515.2,318.0 523.5,315.7 530.5,314.5 543.5,309.3 556.5,304.1 569.2,298.6 580.1,294.2 594.9,287.4 607.8,282.2 620.5,276.7 630.5,270.7 641.1,263.9 651.5,258.2 661.5,253.1 672.0,246.4 682.5,241.8 692.5,237.9 703.0,232.5 713.5,229.4 720.5,226.3 730.5,223.8 741.1,222.3 751.5,220.2 761.5,217.8 771.9,216.1 778.1,214.0 782.2,212.5 792.5,209.4 802.5,205.8 811.0,203.2" fill="none" stroke="#FF4500" stroke-width="1"/>
<polyline points="3.5,488.5 30.5,485.6 40.5,483.0 56.5,480.9 71.5,478.4 87.5,476.8 102.5,473.2 117.5,470.6 130.5,470.3 140.5,469.2 151.1,464.4 162.5,458.6 173.0,454.1 185.5,448.3 196.5,444.4 205.5,440.6 213.0,437.3 220.5,434.8 230.5,432.2 251.5,427.6 258.5,422.2 268.5,413.7 277.5,407.3 290.5,396.0 304.5,383.2 315.5,374.0 322.2,369.3 332.1,361.2 343.5,352.5 350.5,347.3 361.1,339.2 369.2,332.8 378.5,325.8 387.5,317.1 394.5,312.5 402.9,307.3 411.0,300.3 420.3,293.3 448.5,272.5 483.5,247.4 498.5,236.7 514.5,224.2 530.5,216.3 540.5,212.9 550.5,208.4 560.5,203.5 570.5,198.5 580.5,194.0 590.5,190.3 600.5,187.4 607.5,184.7 622.5,177.5 632.5,172.3 642.5,167.2 653.5,163.1 660.5,160.3 670.5,155.9 679.0,152.0 685.5,151.2 689.5,149.7 699.5,149.7 705.5,150.9 718.5,153.6 728.5,155.9 737.5,157.9 740.5,158.2 748.5,160.2 757.0,162.3 765.5,164.3 771.5,166.4 776.5,167.2 799.5,167.2 801.5,168.5 811.5,168.5" fill="none" stroke="#32CD32" stroke-width="1"/>
<polyline points="3.5,489.0 10.5,487.5 20.5,482.0 30.5,476.8 36.5,473.7 42.5,470.3 63.5,470.3 67.5,471.4 77.5,471.4 83.0,473.2 92.5,473.4 102.5,469.6 112.5,466.0 123.5,462.1 130.5,460.3 142.1,454.1 153.5,447.0 166.5,440.6 179.5,435.2 187.5,430.3 194.5,425.1 204.0,418.7 213.0,410.9 220.5,404.5 228.5,397.4 236.5,394.5 243.5,388.9 253.5,378.9 261.5,367.6 267.5,359.8 274.5,351.3 278.5,346.3 287.5,337.8 295.0,330.0 307.5,319.2 320.5,307.6 333.5,294.1 345.5,283.1 355.5,272.2 366.5,262.3 370.5,259.3 376.5,254.5 388.5,243.8 400.5,230.5 409.5,222.2 419.5,217.4 429.5,213.0 438.5,205.8 446.5,199.0 456.5,188.4 460.5,183.9 471.5,171.5 483.5,163.3 498.5,152.5 506.5,146.3 514.5,140.1 521.5,137.0 526.5,137.5 538.5,143.2 549.5,145.8 560.5,148.5 570.5,152.3 581.5,153.8 591.5,156.4 601.5,157.7 609.5,158.4 622.5,158.4 632.5,155.9 642.5,153.8 653.5,151.7 660.5,151.4 670.5,149.2 681.5,147.1 687.5,147.1 691.5,148.5 703.5,148.9 711.5,149.5 718.5,150.7 724.5,153.0 732.5,157.4 740.5,164.1 748.5,168.0 757.0,175.5 765.5,180.4 771.5,183.7 778.5,187.4 784.5,187.8 793.5,189.4 798.5,188.0 808.0,186.2 811.5,186.2" fill="none" stroke="#000" stroke-width="1"/>
</g>
<g shape-rendering="crispEdges">
<line x1="3" y1="29.5" x2="926" y2="29.5" stroke="#90EE90" stroke-width="1" stroke-dasharray="18 6" stroke-dashoffset="0"/>
<line x1="3" y1="58.5" x2="926" y2="58.5" stroke="#90EE90" stroke-width="1" stroke-dasharray="18 6" stroke-dashoffset="0"/>
<line x1="3" y1="100.5" x2="926" y2="100.5" stroke="#90EE90" stroke-width="1" stroke-dasharray="18 6" stroke-dashoffset="0"/>
<line x1="3" y1="120.5" x2="926" y2="120.5" stroke="#90EE90" stroke-width="1" stroke-dasharray="18 6" stroke-dashoffset="0"/>
<line x1="3" y1="172.5" x2="926" y2="172.5" stroke="#90EE90" stroke-width="1" stroke-dasharray="18 6" stroke-dashoffset="0"/>
<line x1="3" y1="197.5" x2="926" y2="197.5" stroke="#90EE90" stroke-width="1" stroke-dasharray="18 6" stroke-dashoffset="0"/>
<line x1="3" y1="237.5" x2="926" y2="237.5" stroke="#90EE90" stroke-width="1" stroke-dasharray="18 6" stroke-dashoffset="0"/>
<line x1="3" y1="294.5" x2="926" y2="294.5" stroke="#90EE90" stroke-width="1" stroke-dasharray="18 6" stroke-dashoffset="0"/>
<line x1="3" y1="349.5" x2="926" y2="349.5" stroke="#90EE90" stroke-width="1" stroke-dasharray="18 6" stroke-dashoffset="0"/>
<line x1="3" y1="368.5" x2="926" y2="368.5" stroke="#90EE90" stroke-width="1" stroke-dasharray="18 6" stroke-dashoffset="0"/>
<line x1="3" y1="413.5" x2="926" y2="413.5" stroke="#90EE90" stroke-width="1" stroke-dasharray="18 6" stroke-dashoffset="0"/>
<line x1="3" y1="431.5" x2="926" y2="431.5" stroke="#90EE90" stroke-width="1" stroke-dasharray="18 6" stroke-dashoffset="0"/>
<line x1="3" y1="443.5" x2="926" y2="443.5" stroke="#90EE90" stroke-width="1" stroke-dasharray="18 6" stroke-dashoffset="0"/>
</g>
<g shape-rendering="crispEdges">
<rect x="483" y="57" width="369" height="2" fill="#FF4500"/>
<rect x="635" y="99" width="217" height="2" fill="#FF4500"/>
<rect x="787" y="171" width="65" height="2" fill="#FF4500"/>
<rect x="163" y="348" width="689" height="3" fill="#32CD32"/>
<rect x="19" y="442" width="833" height="2" fill="#0000FF"/>
<rect x="771" y="293" width="81" height="2" fill="#0000FF"/>
</g>
<g shape-rendering="crispEdges">
<rect x="3" y="605" width="1" height="2" fill="#0000FF"/>
<rect x="11" y="603" width="1" height="4" fill="#0000FF"/>
<rect x="19" y="594" width="1" height="13" fill="#0000FF"/>
<rect x="27" y="587" width="1" height="20" fill="#0000FF"/>
<rect x="35" y="582" width="1" height="25" fill="#0000FF"/>
<rect x="43" y="579" width="1" height="28" fill="#0000FF"/>
<rect x="51" y="579" width="1" height="28" fill="#0000FF"/>
<rect x="59" y="579" width="1" height="28" fill="#0000FF"/>
<rect x="67" y="581" width="1" height="26" fill="#0000FF"/>
<rect x="75" y="584" width="1" height="23" fill="#0000FF"/>
<rect x="83" y="586" width="1" height="21" fill="#0000FF"/>
<rect x="91" y="589" width="1" height="18" fill="#0000FF"/>
<rect x="99" y="586" width="1" height="21" fill="#0000FF"/>
<rect x="107" y="586" width="1" height="21" fill="#0000FF"/>
<rect x="115" y="588" width="1" height="19" fill="#0000FF"/>
<rect x="123" y="590" width="1" height="17" fill="#0000FF"/>
<rect x="131" y="590" width="1" height="17" fill="#0000FF"/>
<rect x="139" y="588" width="1" height="19" fill="#0000FF"/>
<rect x="147" y="583" width="1" height="24" fill="#0000FF"/>
<rect x="155" y="578" width="1" height="29" fill="#0000FF"/>
<rect x="163" y="577" width="1" height="30" fill="#0000FF"/>
<rect x="171" y="577" width="1" height="30" fill="#0000FF"/>
<rect x="179" y="578" width="1" height="29" fill="#0000FF"/>
<rect x="187" y="579" width="1" height="28" fill="#0000FF"/>
<rect x="195" y="580" width="1" height="27" fill="#0000FF"/>
<rect x="203" y="575" width="1" height="32" fill="#0000FF"/>
<rect x="211" y="568" width="1" height="39" fill="#0000FF"/>
<rect x="219" y="568" width="1" height="39" fill="#0000FF"/>
<rect x="227" y="567" width="1" height="40" fill="#0000FF"/>
<rect x="235" y="570" width="1" height="37" fill="#0000FF"/>
<rect x="243" y="570" width="1" height="37" fill="#0000FF"/>
<rect x="251" y="566" width="1" height="41" fill="#0000FF"/>
<rect x="259" y="553" width="1" height="54" fill="#0000FF"/>
<rect x="267" y="543" width="1" height="64" fill="#0000FF"/>
<rect x="275" y="537" width="1" height="70" fill="#0000FF"/>
<rect x="283" y="533" width="1" height="74" fill="#0000FF"/>
<rect x="291" y="529" width="1" height="78" fill="#0000FF"/>
<rect x="299" y="527" width="1" height="80" fill="#0000FF"/>
<rect x="307" y="529" width="1" height="78" fill="#0000FF"/>
<rect x="315" y="529" width="1" height="78" fill="#0000FF"/>
<rect x="323" y="532" width="1" height="75" fill="#0000FF"/>
<rect x="331" y="535" width="1" height="72" fill="#0000FF"/>
<rect x="339" y="539" width="1" height="68" fill="#0000FF"/>
<rect x="347" y="543" width="1" height="64" fill="#0000FF"/>
<rect x="355" y="548" width="1" height="59" fill="#0000FF"/>
<rect x="363" y="553" width="1" height="54" fill="#0000FF"/>
<rect x="371" y="557" width="1" height="50" fill="#0000FF"/>
<rect x="379" y="561" width="1" height="46" fill="#0000FF"/>
<rect x="387" y="562" width="1" height="45" fill="#0000FF"/>
<rect x="395" y="566" width="1" height="41" fill="#0000FF"/>
<rect x="403" y="570" width="1" height="37" fill="#0000FF"/>
<rect x="411" y="573" width="1" height="34" fill="#0000FF"/>
<rect x="419" y="576" width="1" height="31" fill="#0000FF"/>
<rect x="427" y="579" width="1" height="28" fill="#0000FF"/>
<rect x="435" y="580" width="1" height="27" fill="#0000FF"/>
<rect x="443" y="582" width="1" height="25" fill="#0000FF"/>
<rect x="451" y="577" width="1" height="30" fill="#0000FF"/>
<rect x="459" y="572" width="1" height="35" fill="#0000FF"/>
<rect x="467" y="567" width="1" height="40" fill="#0000FF"/>
<rect x="475" y="565" width="1" height="42" fill="#0000FF"/>
<rect x="483" y="562" width="1" height="45" fill="#0000FF"/>
<rect x="491" y="562" width="1" height="45" fill="#0000FF"/>
<rect x="499" y="567" width="1" height="40" fill="#0000FF"/>
<rect x="507" y="569" width="1" height="38" fill="#0000FF"/>
<rect x="515" y="574" width="1" height="33" fill="#0000FF"/>
<rect x="523" y="580" width="1" height="27" fill="#0000FF"/>
<rect x="531" y="596" width="1" height="11" fill="#0000FF"/>
<rect x="539" y="604" width="1" height="3" fill="#0000FF"/>
<rect x="547" y="606" width="1" height="4" fill="#0000FF"/>
<rect x="555" y="606" width="1" height="7" fill="#0000FF"/>
<rect x="563" y="606" width="1" height="9" fill="#0000FF"/>
<rect x="571" y="606" width="1" height="10" fill="#0000FF"/>
<rect x="579" y="606" width="1" height="12" fill="#0000FF"/>
<rect x="587" y="606" width="1" height="11" fill="#0000FF"/>
<rect x="595" y="606" width="1" height="11" fill="#0000FF"/>
<rect x="603" y="606" width="1" height="11" fill="#0000FF"/>
<rect x="611" y="606" width="1" height="9" fill="#0000FF"/>
<rect x="619" y="606" width="1" height="9" fill="#0000FF"/>
<rect x="627" y="606" width="1" height="4" fill="#0000FF"/>
<rect x="635" y="604" width="1" height="3" fill="#0000FF"/>
<rect x="643" y="599" width="1" height="8" fill="#0000FF"/>
<rect x="651" y="596" width="1" height="11" fill="#0000FF"/>
<rect x="659" y="594" width="1" height="13" fill="#0000FF"/>
<rect x="667" y="593" width="1" height="14" fill="#0000FF"/>
<rect x="675" y="592" width="1" height="15" fill="#0000FF"/>
<rect x="683" y="595" width="1" height="12" fill="#0000FF"/>
<rect x="691" y="600" width="1" height="7" fill="#0000FF"/>
<rect x="699" y="603" width="1" height="4" fill="#0000FF"/>
<rect x="715" y="606" width="1" height="7" fill="#0000FF"/>
<rect x="723" y="606" width="1" height="7" fill="#0000FF"/>
<rect x="731" y="606" width="1" height="12" fill="#0000FF"/>
<rect x="739" y="606" width="1" height="17" fill="#0000FF"/>
<rect x="747" y="606" width="1" height="22" fill="#0000FF"/>
<rect x="755" y="606" width="1" height="24" fill="#0000FF"/>
<rect x="763" y="606" width="1" height="26" fill="#0000FF"/>
<rect x="771" y="606" width="1" height="31" fill="#0000FF"/>
<rect x="779" y="606" width="1" height="27" fill="#0000FF"/>
<rect x="787" y="606" width="1" height="20" fill="#0000FF"/>
<rect x="795" y="606" width="1" height="17" fill="#0000FF"/>
<rect x="803" y="606" width="1" height="15" fill="#0000FF"/>
<rect x="811" y="606" width="1" height="12" fill="#0000FF"/>
</g>
<polyline points="3.5,614.6 11.5,613.5 19.5,610.5 27.5,607.0 35.5,604.0 43.5,600.0 51.5,595.7 59.5,591.6 67.5,587.5 75.5,584.0 83.5,583.4 91.5,582.6 99.5,582.0 107.5,582.0 115.5,583.4 123.5,584.0 131.5,586.0 139.5,586.0 147.5,586.0 155.5,585.5 163.5,584.0 171.5,583.5 179.5,582.6 187.5,581.7 195.5,581.0 203.5,578.8 211.5,576.8 219.5,574.3 227.5,573.2 235.5,572.3 243.5,572.0 251.5,570.0 259.5,567.7 267.5,563.6 275.5,559.0 283.5,555.0 291.5,551.3 299.5,546.3 307.5,542.5 315.5,537.3 323.5,534.0 331.5,532.0 339.5,532.0 347.5,532.0 355.5,534.0 363.5,535.8 371.5,539.4 379.5,543.9 387.5,548.0 395.5,551.3 403.5,554.6 411.5,558.7 419.5,562.5 427.5,565.3 435.5,568.0 443.5,571.0 451.5,573.3 459.5,573.5 467.5,573.5 475.5,573.5 483.5,572.3 491.5,571.5 499.5,569.4 507.5,568.6 515.5,568.0 523.5,568.0 531.5,571.0 539.5,575.0 547.5,580.0 555.5,585.0 563.5,590.8 571.5,596.5 579.5,601.5 587.5,606.4 595.5,611.4 603.5,613.3 611.5,614.7 619.5,614.7 627.5,614.7 635.5,614.4 643.5,612.6 651.5,609.8 659.5,607.7 667.5,605.2 675.5,601.9 683.5,599.6 691.5,597.0 699.5,596.5 707.5,597.0 715.5,598.4 723.5,599.6 731.5,602.7 739.5,605.8 747.5,610.1 755.5,614.7 763.5,617.5 771.5,621.2 779.5,624.0 787.5,626.8 795.5,627.0 803.5,627.0 811.5,627.0" fill="none" stroke="#FF0000" stroke-width="2" shape-rendering="crispEdges"/>
<polyline points="3.5,694.5 11.5,683.0 19.5,670.7 27.5,662.0 35.5,654.8 43.5,652.7 51.5,654.0 59.5,658.4 67.5,666.4 75.5,674.3 83.5,682.2 91.5,689.5 99.5,691.6 107.5,688.0 115.5,685.1 123.5,690.9 131.5,700.3 139.5,702.4 147.5,691.6 155.5,674.3 163.5,660.6 171.5,664.9 179.5,672.1 187.5,679.8 195.5,681.5 203.5,678.6 211.5,668.5 219.5,661.0 227.5,661.3 235.5,670.0 243.5,677.9 251.5,682.2 259.5,676.5 267.5,665.6 275.5,657.0 283.5,651.5 291.5,652.4 299.5,653.8 307.5,656.3 315.5,659.2 323.5,662.8 331.5,665.6 339.5,668.5 347.5,670.0 355.5,675.0 363.5,683.7 371.5,698.8 379.5,714.7 387.5,726.0 395.5,729.1 403.5,725.5 411.5,722.6 419.5,716.9 427.5,713.0 435.5,707.5 443.5,701.2 451.5,688.7 459.5,675.7 467.5,661.3 475.5,654.1 483.5,652.4 491.5,655.5 499.5,664.2 507.5,678.6 515.5,689.5 523.5,701.0 531.5,714.7 539.5,727.7 547.5,734.6 555.5,733.5 563.5,728.4 571.5,722.6 579.5,719.0 587.5,716.9 595.5,714.7 603.5,710.4 611.5,706.0 619.5,698.8 627.5,688.0 635.5,674.3 643.5,664.2 651.5,658.4 659.5,660.6 667.5,667.8 675.5,672.9 683.5,678.6 691.5,690.2 699.5,708.9 707.5,724.1 715.5,734.2 723.5,737.8 731.5,737.8 739.5,736.8 747.5,740.0 755.5,743.6 763.5,745.7 771.5,746.5 779.5,740.0 787.5,729.1 795.5,708.9 803.5,693.8 811.5,681.8" fill="none" stroke="#FF0000" stroke-width="1" stroke-dasharray="3 3" shape-rendering="crispEdges"/>
<polyline points="3.5,681.8 11.5,670.7 19.5,656.3 27.5,652.7 35.5,649.8 43.5,651.2 51.5,655.5 59.5,662.8 67.5,675.7 75.5,683.0 83.5,690.9 91.5,695.2 99.5,685.8 107.5,682.2 115.5,683.7 123.5,704.6 131.5,713.0 139.5,691.6 147.5,669.3 155.5,655.3 163.5,658.4 171.5,670.0 179.5,680.1 187.5,685.6 195.5,682.7 203.5,669.3 211.5,655.3 219.5,659.0 227.5,667.1 235.5,682.7 243.5,684.4 251.5,682.2 259.5,661.0 267.5,651.9 275.5,650.5 283.5,652.4 291.5,653.4 299.5,655.5 307.5,659.9 315.5,663.5 323.5,667.1 331.5,667.4 339.5,670.0 347.5,673.6 355.5,680.4 363.5,692.3 371.5,714.7 379.5,734.9 387.5,726.3 395.5,726.3 403.5,719.3 411.5,720.2 419.5,710.7 427.5,704.6 435.5,701.0 443.5,694.5 451.5,672.9 459.5,659.9 467.5,650.5 475.5,651.5 483.5,652.7 491.5,661.3 499.5,677.2 507.5,691.6 515.5,701.0 523.5,710.4 531.5,730.6 539.5,737.5 547.5,736.4 555.5,726.5 563.5,721.9 571.5,718.3 579.5,718.3 587.5,716.2 595.5,713.3 603.5,704.6 611.5,701.7 619.5,691.6 627.5,675.0 635.5,660.6 643.5,655.8 651.5,659.9 659.5,667.8 667.5,671.4 675.5,675.7 683.5,685.8 691.5,703.2 699.5,725.5 707.5,736.4 715.5,741.0 723.5,735.6 731.5,737.1 739.5,736.4 747.5,747.2 755.5,746.3 763.5,745.7 771.5,746.5 779.5,732.0 787.5,711.8 795.5,685.8 803.5,678.6 811.5,681.5" fill="none" stroke="#20B2AA" stroke-width="1" shape-rendering="crispEdges"/>
<g shape-rendering="crispEdges">
<rect x="927" y="0" width="45" height="776" fill="#fff"/>
<rect x="0" y="0" width="2" height="776" fill="#fff"/>
<rect x="0" y="756" width="972" height="20" fill="#fff"/>
<rect x="0" y="518" width="927" height="1" fill="#fff"/>
<rect x="0" y="643" width="927" height="1" fill="#fff"/>
<rect x="0" y="0" width="927" height="2" fill="#fff"/>
</g>
<g shape-rendering="crispEdges" fill="none" stroke="#000" stroke-width="1">
<rect x="2.5" y="2.5" width="924" height="515"/>
<rect x="2.5" y="519.5" width="924" height="123"/>
<rect x="2.5" y="644.5" width="924" height="111"/>
</g>
<g shape-rendering="crispEdges">
<rect x="927" y="19" width="2" height="1" fill="#000"/>
<rect x="927" y="52" width="2" height="1" fill="#000"/>
<rect x="927" y="85" width="2" height="1" fill="#000"/>
<rect x="927" y="118" width="2" height="1" fill="#000"/>
<rect x="927" y="151" width="2" height="1" fill="#000"/>
<rect x="927" y="184" width="2" height="1" fill="#000"/>
<rect x="927" y="217" width="2" height="1" fill="#000"/>
<rect x="927" y="250" width="2" height="1" fill="#000"/>
<rect x="927" y="283" width="2" height="1" fill="#000"/>
<rect x="927" y="316" width="2" height="1" fill="#000"/>
<rect x="927" y="349" width="2" height="1" fill="#000"/>
<rect x="927" y="382" width="2" height="1" fill="#000"/>
<rect x="927" y="415" width="2" height="1" fill="#000"/>
<rect x="927" y="448" width="2" height="1" fill="#000"/>
<rect x="927" y="481" width="2" height="1" fill="#000"/>
<rect x="927" y="514" width="2" height="1" fill="#000"/>
<rect x="927" y="606" width="2" height="1" fill="#000"/>
<rect x="927" y="667" width="2" height="1" fill="#000"/>
<rect x="927" y="733" width="2" height="1" fill="#000"/>
<rect x="927" y="521" width="1" height="1" fill="#000"/>
<rect x="927" y="641" width="1" height="1" fill="#000"/>
<rect x="927" y="646" width="1" height="1" fill="#000"/>
<rect x="927" y="754" width="1" height="1" fill="#000"/>
<rect x="3" y="756" width="1" height="4" fill="#000"/>
<rect x="67" y="756" width="1" height="4" fill="#000"/>
<rect x="131" y="756" width="1" height="4" fill="#000"/>
<rect x="195" y="756" width="1" height="4" fill="#000"/>
<rect x="259" y="756" width="1" height="4" fill="#000"/>
<rect x="323" y="756" width="1" height="4" fill="#000"/>
<rect x="387" y="756" width="1" height="4" fill="#000"/>
<rect x="451" y="756" width="1" height="4" fill="#000"/>
<rect x="515" y="756" width="1" height="4" fill="#000"/>
<rect x="579" y="756" width="1" height="4" fill="#000"/>
<rect x="643" y="756" width="1" height="4" fill="#000"/>
<rect x="707" y="756" width="1" height="4" fill="#000"/>
<rect x="771" y="756" width="1" height="4" fill="#000"/>
</g>
<g style='font-family:"Liberation Sans", sans-serif' font-size="10" letter-spacing="-0.35">
<text x="932" y="23" fill="#000" font-size="10" text-anchor="start">1.10180</text>
<text x="932" y="56" fill="#000" font-size="10" text-anchor="start">1.09960</text>
<text x="932" y="89" fill="#000" font-size="10" text-anchor="start">1.09745</text>
<text x="932" y="122" fill="#000" font-size="10" text-anchor="start">1.09530</text>
<text x="932" y="155" fill="#000" font-size="10" text-anchor="start">1.09315</text>
<text x="932" y="188" fill="#000" font-size="10" text-anchor="start">1.09100</text>
<text x="932" y="221" fill="#000" font-size="10" text-anchor="start">1.08880</text>
<text x="932" y="254" fill="#000" font-size="10" text-anchor="start">1.08665</text>
<text x="932" y="287" fill="#000" font-size="10" text-anchor="start">1.08450</text>
<text x="932" y="320" fill="#000" font-size="10" text-anchor="start">1.08230</text>
<text x="932" y="353" fill="#000" font-size="10" text-anchor="start">1.08010</text>
<text x="932" y="386" fill="#000" font-size="10" text-anchor="start">1.07800</text>
<text x="932" y="419" fill="#000" font-size="10" text-anchor="start">1.07585</text>
<text x="932" y="452" fill="#000" font-size="10" text-anchor="start">1.07370</text>
<text x="932" y="485" fill="#000" font-size="10" text-anchor="start">1.07150</text>
<text x="932" y="518" fill="#000" font-size="10" text-anchor="start">1.06935</text>
<rect x="928" y="23" width="41" height="11" fill="#90EE90"/>
<text x="932" y="33" fill="#fff" font-size="10" text-anchor="start">1.10115</text>
<rect x="928" y="52" width="41" height="11" fill="#90EE90"/>
<text x="932" y="62" fill="#fff" font-size="10" text-anchor="start">1.09925</text>
<rect x="928" y="94" width="41" height="11" fill="#90EE90"/>
<text x="932" y="104" fill="#fff" font-size="10" text-anchor="start">1.09650</text>
<rect x="928" y="114" width="41" height="11" fill="#90EE90"/>
<text x="932" y="124" fill="#fff" font-size="10" text-anchor="start">1.09520</text>
<rect x="928" y="166" width="41" height="11" fill="#90EE90"/>
<text x="932" y="176" fill="#fff" font-size="10" text-anchor="start">1.09175</text>
<rect x="928" y="191" width="41" height="11" fill="#90EE90"/>
<text x="932" y="201" fill="#fff" font-size="10" text-anchor="start">1.09010</text>
<rect x="928" y="231" width="41" height="11" fill="#90EE90"/>
<text x="932" y="241" fill="#fff" font-size="10" text-anchor="start">1.08750</text>
<rect x="928" y="288" width="41" height="11" fill="#90EE90"/>
<text x="932" y="298" fill="#fff" font-size="10" text-anchor="start">1.08375</text>
<rect x="928" y="343" width="41" height="11" fill="#90EE90"/>
<text x="932" y="353" fill="#fff" font-size="10" text-anchor="start">1.08015</text>
<rect x="928" y="362" width="41" height="11" fill="#90EE90"/>
<text x="932" y="372" fill="#fff" font-size="10" text-anchor="start">1.07890</text>
<rect x="928" y="407" width="41" height="11" fill="#90EE90"/>
<text x="932" y="417" fill="#fff" font-size="10" text-anchor="start">1.07595</text>
<rect x="928" y="425" width="41" height="11" fill="#90EE90"/>
<text x="932" y="435" fill="#fff" font-size="10" text-anchor="start">1.07480</text>
<rect x="928" y="437" width="41" height="11" fill="#90EE90"/>
<text x="932" y="447" fill="#fff" font-size="10" text-anchor="start">1.07400</text>
<rect x="928" y="181" width="41" height="11" fill="#000"/>
<text x="932" y="191" fill="#fff" font-size="10" text-anchor="start">1.09078</text>
<text x="929.5" y="530" fill="#000" font-size="10" text-anchor="start">0.005148</text>
<text x="929.5" y="610" fill="#000" font-size="10" text-anchor="start">0.00</text>
<text x="929.5" y="639" fill="#000" font-size="10" text-anchor="start">-0.002106</text>
<text x="929.5" y="655" fill="#000" font-size="10" text-anchor="start">100</text>
<text x="929.5" y="671" fill="#000" font-size="10" text-anchor="start">80</text>
<text x="929.5" y="737" fill="#000" font-size="10" text-anchor="start">20</text>
<text x="929.5" y="752" fill="#000" font-size="10" text-anchor="start">0</text>
<text x="1.5" y="768" fill="#000" font-size="10" text-anchor="start">8 Jun 2023</text>
<text x="65.5" y="768" fill="#000" font-size="10" text-anchor="start">9 Jun 16:00</text>
<text x="129.5" y="768" fill="#000" font-size="10" text-anchor="start">13 Jun 00:00</text>
<text x="193.5" y="768" fill="#000" font-size="10" text-anchor="start">14 Jun 08:00</text>
<text x="257.5" y="768" fill="#000" font-size="10" text-anchor="start">15 Jun 16:00</text>
<text x="321.5" y="768" fill="#000" font-size="10" text-anchor="start">19 Jun 00:00</text>
<text x="385.5" y="768" fill="#000" font-size="10" text-anchor="start">20 Jun 08:00</text>
<text x="449.5" y="768" fill="#000" font-size="10" text-anchor="start">21 Jun 16:00</text>
<text x="513.5" y="768" fill="#000" font-size="10" text-anchor="start">23 Jun 00:00</text>
<text x="577.5" y="768" fill="#000" font-size="10" text-anchor="start">26 Jun 08:00</text>
<text x="641.5" y="768" fill="#000" font-size="10" text-anchor="start">27 Jun 16:00</text>
<text x="705.5" y="768" fill="#000" font-size="10" text-anchor="start">29 Jun 00:00</text>
<text x="769.5" y="768" fill="#000" font-size="10" text-anchor="start">30 Jun 08:00</text>
<text x="18" y="14" fill="#000" font-size="10" text-anchor="start">EURUSD,H4</text>
<text x="77.6" y="14" fill="#000" font-size="10" text-anchor="start">1.09010</text>
<text x="113.4" y="14" fill="#000" font-size="10" text-anchor="start">1.09172</text>
<text x="149.9" y="14" fill="#000" font-size="10" text-anchor="start">1.09005</text>
<text x="185.8" y="14" fill="#000" font-size="10" text-anchor="start">1.09078</text>
<text x="7" y="532" fill="#000" font-size="10" text-anchor="start">MACD(12,26,9) -0.000628 -0.001204</text>
<text x="7" y="657" fill="#000" font-size="10" text-anchor="start">Stoch(13,3,3) 67.7338 67.4497</text>
</g>
<polygon points="6,9 13,9 9.5,13" fill="#000"/>
</svg>
</body></html>
